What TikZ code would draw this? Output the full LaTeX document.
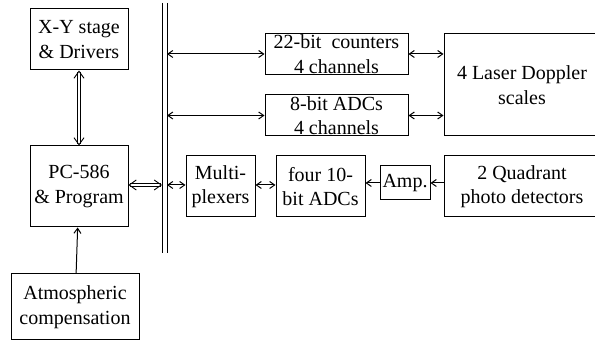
\documentclass[tikz,border=0pt]{standalone}
\usepackage{fontspec}
\setmainfont{Liberation Serif}
\usetikzlibrary{arrows.meta}
\begin{document}
\begin{tikzpicture}[x=1pt,y=-1pt,line width=1pt]
    \useasboundingbox (0,0) rectangle (595,344);
    \begin{scope}[every node/.style={rectangle,draw,align=center,inner sep=1pt,
                font=\fontsize{20}{24.5}\selectfont}]
        \node[minimum width=98,minimum height=61] (XY) at (79,39.5) {X-Y stage\\\& Drivers};
        \node[minimum width=98,minimum height=81] (PC) at (79,186.5) {PC-586\\\& Program};
        \node[minimum width=128,minimum height=66] (ATM) at (75,307) {Atmospheric\\compensation};
        \node[minimum width=143,minimum height=40] (CNT) at (336.5,54) {22-bit~ counters\\4 channels};
        \node[minimum width=143,minimum height=41] (ADC8) at (336.5,115.5) {8-bit ADCs\\4 channels};
        \node[minimum width=156,minimum height=102] (LDS) at (522,85) {4 Laser Doppler\\scales};
        \node[minimum width=69,minimum height=61] (MUX) at (220.5,186.5) {Multi-\\plexers};
        \node[minimum width=89,minimum height=61] (ADC10) at (320.5,186.5) {four 10-\\bit ADCs};
        \node[minimum width=50,minimum height=34,inner sep=0pt] (AMP) at (405,183) {Amp.};
        \node[minimum width=156,minimum height=61] (QPD) at (522,186.5) {2 Quadrant\\photo detectors};
    \end{scope}

    % bus
    \coordinate (busL) at (162,0);
    \coordinate (busR) at (167,0);
    \draw (162,3) -- (162,253);
    \draw (167,3) -- (167,253);

    \begin{scope}[>={Straight Barb[length=5pt,width=7pt]},
                every edge/.style={draw,line width=1pt},
                wide/.style={double,double distance=2.6pt,line width=0.9pt,
                    >={Straight Barb[length=7pt,width=10pt]}}]
        \path [<->] (XY) edge[wide] (PC);
        \path [<->] ([yshift=1.5pt]PC.east) edge[wide] ([yshift=1.5pt]PC.east -| busL);
        \path [->] (ATM) edge (PC);
        \path [<->] (busR |- CNT.west) edge (CNT.west);
        \path [<->] (busR |- ADC8.west) edge (ADC8.west);
        \path [<->] (CNT.east) edge (CNT.east -| LDS.west);
        \path [<->] (ADC8.east) edge (ADC8.east -| LDS.west);
        \path [<->] ([yshift=1.5pt]MUX.west -| busR) edge ([yshift=1.5pt]MUX.west);
        \path [<->] ([yshift=1.5pt]MUX.east) edge ([yshift=1.5pt]ADC10.west);
        \path [->] (AMP.west) edge (AMP.west -| ADC10.east);
        \path [->] (QPD.west |- AMP.east) edge (AMP.east);
    \end{scope}
\end{tikzpicture}
\end{document}
